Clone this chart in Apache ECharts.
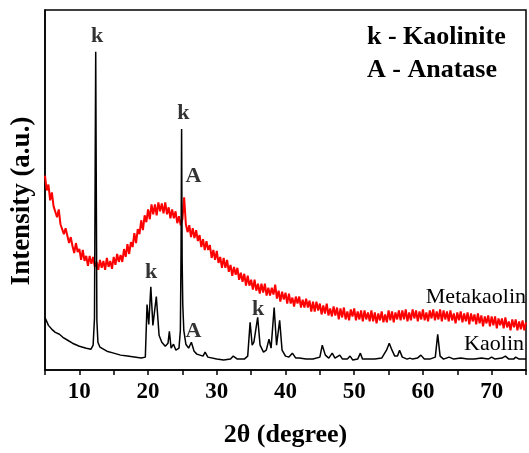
<!DOCTYPE html>
<html>
<head>
<meta charset="utf-8">
<script src="https://cdn.jsdelivr.net/npm/echarts@6/dist/echarts.min.js"></script>
<style>
  html, body { margin: 0; padding: 0; background: #fff; }
  #chart { width: 529px; height: 453px; }
</style>
</head>
<body>
<div id="chart"></div>
<script>
// Kaolin pattern: 2θ positions and intensities (a.u.)
const kaolinAngles = [
  5, 5.5, 6, 6.5, 7.1, 7.6, 8.3, 9, 10, 11, 11.7, 12.0, 12.2, 12.3, 12.38, 12.46, 12.55, 12.7, 13,
  14, 15, 16, 17, 18, 19, 19.6, 19.85, 20.1, 20.4, 20.7, 21.2, 21.6, 22, 22.5, 22.9, 23.1, 23.35,
  23.7, 24.05, 24.5, 24.7, 24.8, 24.88, 24.96, 25.05, 25.2, 25.5, 25.9, 26.3, 26.7, 27.1, 28, 28.3,
  28.7, 30, 31, 32, 32.4, 33, 34, 34.5, 34.85, 35.15, 35.4, 35.95, 36.3, 36.8, 37.2, 37.6, 37.9,
  38.35, 38.7, 39.15, 39.5, 40, 40.5, 41.0, 41.5, 42, 43, 44, 45, 45.35, 45.8, 46.3, 46.8, 47.2,
  47.9, 48.3, 49, 49.4, 49.8, 50.5, 50.9, 51.2, 52, 53, 54, 54.7, 55.1, 55.5, 55.9, 56.3, 56.6, 57,
  57.7, 58.1, 58.5, 59.2, 59.7, 60.2, 61, 61.8, 62.15, 62.5, 63, 63.8, 64.5, 65.5, 66.5, 67.5, 68.5,
  69.5, 70, 70.5, 71.5, 72, 72.5, 73.2, 73.5, 74, 75
];
const kaolinCounts = [
  53, 45, 41, 38, 36, 33, 30, 27, 24, 22, 21, 25, 52, 200, 321, 190, 50, 28, 23,
  19, 17, 15, 14, 13, 12, 13, 66, 46, 84, 45, 74, 35, 28, 24, 27, 39, 22,
  26, 20, 22, 40, 120, 243, 110, 66, 40, 26, 22, 28, 19, 16, 14, 18,
  13, 11, 10, 11, 14, 11, 11, 14, 48, 25, 28, 53, 25, 18, 20, 31, 22,
  63, 25, 50, 20, 14, 13, 17, 12, 12, 11, 11, 13, 25, 15, 12, 17, 12,
  15, 11, 11, 14, 10, 11, 17, 11, 11, 11, 12, 20, 27, 20, 14, 14, 20, 13,
  11, 12, 11, 12, 15, 11, 11, 13, 36, 14, 11, 13, 11, 12, 11, 11, 12,
  11, 13, 11, 12, 14, 11, 11, 13, 11, 11
];

// Metakaolin pattern: intensities sampled every 0.25° from 5°
const metaStart = 5;
const metaStep = 0.25;
const metaCounts = [
  196, 181, 187, 171, 179, 165, 165, 154, 162, 147, 148, 137, 143, 141, 128, 134,
  125, 118, 128, 119, 122, 111, 121, 110, 115, 105, 115, 107, 114, 104, 109, 101,
  111, 103, 110, 101, 113, 104, 110, 102, 114, 106, 117, 109, 116, 109, 122, 114,
  127, 117, 129, 124, 138, 128, 142, 137, 151, 141, 156, 149, 162, 152, 167, 157,
  167, 156, 169, 160, 168, 158, 169, 157, 164, 153, 162, 153, 160, 148, 155, 146,
  152, 174, 147, 139, 146, 134, 143, 133, 141, 130, 136, 124, 132, 121, 130, 121,
  126, 113, 121, 111, 120, 108, 114, 103, 113, 103, 111, 99, 106, 95, 104, 96,
  103, 91, 98, 89, 97, 85, 95, 85, 91, 81, 91, 80, 87, 77, 87, 78,
  87, 75, 83, 75, 83, 76, 86, 72, 80, 69, 79, 71, 78, 67, 77, 67,
  73, 64, 74, 67, 74, 63, 71, 63, 72, 63, 70, 59, 69, 59, 69, 60,
  67, 56, 65, 57, 67, 55, 62, 54, 64, 55, 63, 51, 62, 53, 63, 51,
  59, 50, 61, 54, 62, 50, 59, 51, 60, 49, 60, 51, 58, 49, 60, 49,
  58, 47, 57, 50, 59, 48, 56, 48, 60, 50, 59, 48, 58, 51, 60, 50,
  60, 51, 61, 49, 58, 50, 61, 52, 60, 49, 59, 51, 61, 50, 58, 49,
  60, 52, 61, 50, 59, 51, 61, 49, 60, 51, 59, 49, 60, 50, 57, 47,
  58, 50, 59, 48, 57, 49, 58, 46, 57, 49, 56, 46, 57, 47, 55, 44,
  54, 47, 55, 44, 54, 45, 54, 42, 52, 45, 52, 42, 53, 43, 49, 40,
  51, 43, 51, 40, 49, 41, 50, 40, 48
];

// X axis ticks
const xMin = 5, xMax = 75, xStep = 5;
const xLabelEvery = 10;

// Peak tags: text and the (2θ, intensity) anchor of each tag
const peakTags = [
  { text: 'k', at: [12.6, 336] },
  { text: 'k', at: [25.15, 259] },
  { text: 'A', at: [26.6, 195] },
  { text: 'k', at: [20.45, 98] },
  { text: 'A', at: [26.6, 39] },
  { text: 'k', at: [36.0, 61] }
];

const metaAngles = metaCounts.map((_, i) => metaStart + i * metaStep);
const metaSeries = metaCounts.map((v, i) => [metaAngles[i], v]);
const kaolinSeries = kaolinCounts.map((v, i) => [kaolinAngles[i], v]);

const serif = '"Liberation Serif", "Times New Roman", serif';

const chart = echarts.init(document.getElementById('chart'), null, { renderer: 'canvas' });
chart.setOption({
  animation: false,
  backgroundColor: '#fff',
  grid: {
    left: 45, top: 10, right: -6, bottom: 80,
    show: true, borderColor: '#000', borderWidth: 1.5, backgroundColor: 'transparent'
  },
  xAxis: {
    type: 'value',
    min: xMin, max: xMax, interval: xStep,
    axisLine: { show: true, lineStyle: { color: '#000', width: 1.5 } },
    axisTick: { show: true, inside: false, length: 5, lineStyle: { color: '#000', width: 1.5 } },
    splitLine: { show: false },
    axisLabel: {
      margin: 11,
      color: '#000',
      fontFamily: serif,
      fontWeight: 'bold',
      fontSize: 23,
      formatter: v => (v % xLabelEvery === 0 && v > xMin && v < xMax) ? String(v) : ''
    },
    name: '2θ (degree)',
    nameLocation: 'middle',
    nameGap: 52,
    nameTextStyle: { color: '#000', fontFamily: serif, fontWeight: 'bold', fontSize: 26 }
  },
  yAxis: {
    type: 'value',
    min: 0, max: 363,
    axisLine: { show: true, lineStyle: { color: '#000', width: 1.5 } },
    axisTick: { show: false },
    axisLabel: { show: false },
    splitLine: { show: false }
  },
  graphic: [
    {
      type: 'text', x: 22, y: 201, rotation: Math.PI / 2,
      style: {
        text: 'Intensity (a.u.)', fill: '#000', font: 'bold 27px ' + serif,
        textAlign: 'center', textVerticalAlign: 'middle'
      }
    },
    {
      type: 'text', x: 367, y: 37,
      style: { text: 'k - Kaolinite', fill: '#000', font: 'bold 26px ' + serif, textAlign: 'left', textVerticalAlign: 'middle' }
    },
    {
      type: 'text', x: 367, y: 70,
      style: { text: 'A - Anatase', fill: '#000', font: 'bold 26px ' + serif, textAlign: 'left', textVerticalAlign: 'middle' }
    },
    {
      type: 'text', x: 526, y: 297,
      style: { text: 'Metakaolin', fill: '#000', font: '22px ' + serif, textAlign: 'right', textVerticalAlign: 'middle' }
    },
    {
      type: 'text', x: 524, y: 344,
      style: { text: 'Kaolin', fill: '#000', font: '22px ' + serif, textAlign: 'right', textVerticalAlign: 'middle' }
    }
  ],
  series: [
    {
      name: 'Metakaolin',
      type: 'line',
      data: metaSeries,
      showSymbol: false,
      sampling: null,
      lineStyle: { color: '#ff0000', width: 2 },
      z: 2
    },
    {
      name: 'Kaolin',
      type: 'line',
      data: kaolinSeries,
      showSymbol: false,
      lineStyle: { color: '#000', width: 1.5 },
      z: 3
    },
    {
      name: 'tags',
      type: 'scatter',
      symbolSize: 0,
      silent: true,
      data: peakTags.map(t => ({ value: t.at, tagText: t.text })),
      label: {
        show: true,
        position: 'inside',
        color: '#000',
        fontFamily: serif,
        fontWeight: 'bold',
        fontSize: 22,
        formatter: p => p.data.tagText
      },
      z: 4
    }
  ]
});
</script>
</body>
</html>
